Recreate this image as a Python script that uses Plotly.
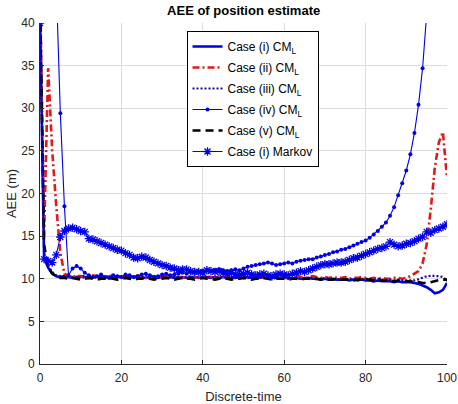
import plotly.graph_objects as go

t = list(range(0, 101))

case_i = [41.0, 12.5, 11.3, 10.6, 10.3, 10.2, 10.3, 10.2, 10.1, 10.2,
          10.3, 10.2, 10.1, 10.2, 10.3, 10.2, 10.2, 10.1, 10.2, 10.3,
          10.2, 10.1, 10.2, 10.2, 10.3, 10.2, 10.1, 10.2, 10.2, 10.1,
          10.2, 10.3, 10.2, 10.1, 10.2, 10.2, 10.1, 10.2, 10.2, 10.1,
          10.2, 10.2, 10.1, 10.2, 10.1, 10.2, 10.2, 10.1, 10.1, 10.2,
          10.1, 10.2, 10.1, 10.1, 10.2, 10.1, 10.1, 10.2, 10.1, 10.0,
          10.1, 10.1, 10.0, 10.1, 10.0, 10.0, 10.1, 10.0, 10.0, 9.9,
          10.0, 9.9, 10.0, 9.9, 9.9, 9.9, 9.8, 9.9, 9.8, 9.9,
          9.8, 9.8, 9.7, 9.8, 9.7, 9.7, 9.7, 9.6, 9.7, 9.6,
          9.6, 9.6, 9.5, 9.4, 9.2, 9.0, 8.7, 8.3, 8.4, 8.7, 9.5]

case_ii = [45.0, 15.0, 34.7, 25.0, 18.5, 13.0, 10.6, 10.3, 10.2, 10.4,
           10.3, 10.1, 10.2, 10.4, 10.3, 10.2, 10.1, 10.3, 10.4, 10.2,
           10.1, 10.2, 10.3, 10.2, 10.4, 10.3, 10.1, 10.2, 10.3, 10.2,
           10.1, 10.3, 10.2, 10.4, 10.2, 10.1, 10.2, 10.3, 10.2, 10.1,
           10.2, 10.3, 10.2, 10.1, 10.3, 10.2, 10.2, 10.1, 10.2, 10.3,
           10.2, 10.1, 10.2, 10.3, 10.2, 10.1, 10.2, 10.2, 10.3, 10.2,
           10.1, 10.2, 10.1, 10.3, 10.2, 10.1, 10.2, 10.3, 10.2, 10.1,
           10.2, 10.1, 10.2, 10.1, 10.1, 10.2, 10.0, 10.1, 10.1, 10.2,
           10.1, 10.0, 10.1, 10.0, 10.1, 10.0, 10.0, 10.1, 10.1, 10.0,
           10.1, 10.3, 10.6, 10.9, 11.8, 14.0, 18.1, 23.0, 26.0, 27.2, 21.8]

case_iii = [42.0, 13.0, 11.5, 10.8, 10.4, 10.3, 10.2, 10.3, 10.2, 10.1,
            10.2, 10.3, 10.2, 10.2, 10.1, 10.2, 10.3, 10.2, 10.1, 10.2,
            10.2, 10.3, 10.2, 10.1, 10.2, 10.2, 10.3, 10.2, 10.1, 10.2,
            10.2, 10.1, 10.2, 10.3, 10.2, 10.1, 10.2, 10.2, 10.1, 10.2,
            10.2, 10.1, 10.2, 10.2, 10.1, 10.2, 10.1, 10.2, 10.2, 10.1,
            10.2, 10.1, 10.1, 10.2, 10.1, 10.2, 10.1, 10.1, 10.2, 10.1,
            10.1, 10.0, 10.1, 10.1, 10.0, 10.1, 10.0, 10.1, 10.0, 10.0,
            10.1, 10.0, 10.0, 9.9, 10.0, 10.0, 9.9, 10.0, 9.9, 10.0,
            10.0, 10.0, 9.9, 10.0, 9.9, 9.9, 9.9, 9.8, 9.9, 9.8,
            9.8, 9.8, 9.8, 9.95, 10.1, 10.3, 10.35, 10.35, 10.3, 10.2, 9.7]

case_iv = [80.0, 70.0, 60.0, 52.0, 44.5, 29.4, 18.5, 10.4, 11.2, 11.5,
           11.2, 10.7, 10.4, 10.2, 10.3, 10.5, 10.2, 10.1, 10.4, 10.3,
           10.2, 10.5, 10.4, 10.2, 10.3, 10.5, 10.6, 10.4, 10.2, 10.3,
           10.5, 10.6, 10.4, 10.5, 10.6, 10.7, 10.6, 10.8, 10.7, 10.8,
           10.9, 11.0, 10.9, 11.0, 11.1, 11.0, 10.9, 11.0, 11.1, 11.0,
           11.2, 11.4, 11.5, 11.6, 11.7, 11.8, 11.9, 11.8, 11.6, 11.7,
           11.8, 11.9, 11.8, 12.0, 12.1, 12.2, 12.3, 12.3, 12.5, 12.6,
           12.8, 12.9, 13.1, 13.2, 13.4, 13.5, 13.7, 13.9, 14.1, 14.3,
           14.5, 14.8, 15.2, 15.6, 16.1, 16.6, 17.4, 18.4, 19.8, 21.2,
           22.7, 24.6, 27.1, 30.4, 34.7, 41.0, 48.0, 56.0, 65.0, 75.0, 86.0]

case_v = [43.0, 14.0, 11.4, 10.6, 10.3, 10.1, 10.1, 10.0, 10.1, 10.0,
          9.9, 10.0, 10.1, 10.0, 9.9, 10.0, 10.0, 10.1, 10.0, 9.9,
          10.0, 10.1, 10.0, 9.9, 10.0, 10.0, 10.1, 10.0, 9.9, 10.0,
          10.0, 10.1, 10.0, 9.9, 10.0, 10.1, 10.0, 10.0, 9.9, 10.0,
          10.1, 10.0, 10.0, 9.9, 10.0, 10.1, 10.0, 9.9, 10.0, 10.0,
          10.1, 10.0, 9.9, 10.0, 10.0, 10.1, 10.0, 9.9, 10.0, 10.0,
          10.0, 9.9, 10.0, 10.0, 9.9, 10.0, 10.0, 9.9, 10.0, 9.9,
          10.0, 9.9, 9.9, 10.0, 9.9, 9.9, 9.9, 9.8, 9.9, 9.9,
          9.9, 9.9, 9.8, 9.9, 9.8, 9.8, 9.8, 9.7, 9.8, 9.7,
          9.7, 9.7, 9.6, 9.6, 9.5, 9.5, 9.6, 9.75, 9.85, 9.9, 9.9]

markov = [40.0, 12.3, 12.1, 11.9, 12.8, 14.9, 15.6, 15.9, 16.0, 15.8,
          15.6, 15.5, 14.7, 14.6, 14.4, 14.2, 14.0, 13.8, 13.6, 13.4,
          13.3, 13.0, 12.8, 12.5, 12.4, 12.6, 12.5, 12.2, 12.0, 11.8,
          11.6, 11.5, 11.3, 11.2, 11.0, 11.1, 11.1, 10.9, 10.8, 10.8,
          10.7, 11.0, 10.9, 10.8, 10.9, 10.7, 10.6, 10.7, 10.5, 10.5,
          10.6, 10.7, 10.5, 10.4, 10.5, 10.6, 10.4, 10.3, 10.5, 10.6,
          10.5, 10.4, 10.6, 10.7, 10.9, 10.8, 11.0, 11.2, 11.4, 11.6,
          11.7, 11.7, 11.8, 11.9, 11.9, 12.0, 12.2, 12.4, 12.5, 12.7,
          12.9, 13.1, 13.3, 13.5, 13.6, 13.8, 14.3, 14.0, 13.8, 13.9,
          14.1, 14.2, 14.4, 14.7, 14.9, 15.5, 15.4, 15.7, 15.9, 16.1, 16.4]

names = ["Case (i) CM<sub>L</sub>", "Case (ii) CM<sub>L</sub>", "Case (iii) CM<sub>L</sub>",
         "Case (iv) CM<sub>L</sub>", "Case (v) CM<sub>L</sub>", "Case (i) Markov"]

title_text = "AEE of position estimate"
x_title = "Discrete-time"
y_title = "AEE (m)"

FONT = "Liberation Sans, Arial, sans-serif"
fig = go.Figure()

fig.add_trace(go.Scatter(x=t, y=case_i, name=names[0], mode="lines", legendgroup="a",
                         line=dict(color="#0000e6", width=2.6)))
fig.add_trace(go.Scatter(x=t, y=case_ii, name=names[1], mode="lines", legendgroup="b",
                         line=dict(color="#e01a1a", width=2.6, dash="7px,3px,2px,3px")))
fig.add_trace(go.Scatter(x=t, y=case_iii, name=names[2], mode="lines", legendgroup="c",
                         line=dict(color="#10108a", width=2.2, dash="2px,2px")))
fig.add_trace(go.Scatter(x=t, y=case_iv, name=names[3], mode="lines+markers", legendgroup="d",
                         line=dict(color="#0000e6", width=1.1),
                         marker=dict(symbol="circle", size=4, color="#0000e6")))
fig.add_trace(go.Scatter(x=t, y=case_v, name=names[4], mode="lines", legendgroup="e",
                         line=dict(color="#000000", width=2.6, dash="8px,5px")))
fig.add_trace(go.Scatter(x=t, y=markov, name=names[5], mode="lines+markers", legendgroup="f",
                         line=dict(color="#0000e6", width=1.1),
                         marker=dict(symbol="asterisk-open", size=7, color="#0000e6",
                                     line=dict(color="#0000e6", width=1.3))))

fig.update_layout(
    width=458, height=404,
    margin=dict(l=40, r=11, t=23, b=40),
    paper_bgcolor="white", plot_bgcolor="white",
    font=dict(family=FONT, size=12, color="#262626"),
    title=dict(text="<b>" + title_text + "</b>", x=0.532, xanchor="center",
               y=0.975, yanchor="middle", yref="container",
               font=dict(size=13, color="#000000", family=FONT)),
    showlegend=True,
    legend=dict(x=0.36, y=0.9765, xanchor="left", yanchor="top",
                bgcolor="white", bordercolor="#000000", borderwidth=1,
                font=dict(size=12, color="#000000", family=FONT),
                tracegroupgap=2, itemwidth=30),
)

fig.update_xaxes(range=[0, 100], tickvals=[0, 20, 40, 60, 80, 100],
                 showgrid=True, gridcolor="#dcdcdc", gridwidth=1,
                 showline=True, linecolor="#262626", linewidth=1,
                 ticks="inside", ticklen=4, tickcolor="#262626",
                 zeroline=False, mirror=False, automargin=False,
                 ticklabelstandoff=3,
                 tickfont=dict(size=12, color="#262626"),
                 title=dict(text=x_title, standoff=10, font=dict(size=13, color="#262626")))
fig.update_yaxes(range=[0, 40], tickvals=[0, 5, 10, 15, 20, 25, 30, 35, 40],
                 showgrid=True, gridcolor="#dcdcdc", gridwidth=1,
                 showline=True, linecolor="#262626", linewidth=1,
                 ticks="inside", ticklen=4, tickcolor="#262626",
                 zeroline=False, mirror=False, automargin=False,
                 ticklabelstandoff=2,
                 tickfont=dict(size=12, color="#262626"),
                 title=dict(text=y_title, standoff=1, font=dict(size=13, color="#262626")))

fig.write_html("out.html")
